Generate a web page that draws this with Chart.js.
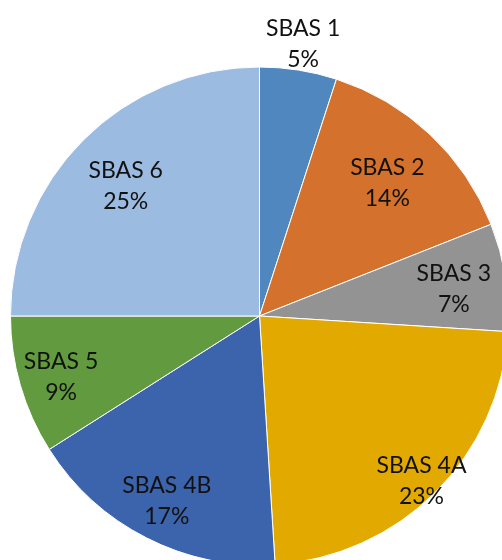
<!DOCTYPE html>
<html>
<head>
<meta charset="utf-8">
<script src="https://cdn.jsdelivr.net/npm/chart.js@4.4.1/dist/chart.umd.min.js"></script>
<style>
    html, body { margin: 0; padding: 0; background: #fff; overflow: hidden; width: 502px; height: 560px; }
    #wrap { position: absolute; left: 0; top: 0; width: 520px; height: 632px; }
</style>
</head>
<body>
<div id="wrap"><canvas id="my-chart"></canvas></div>
<script>
// * Share of each SBAS group (pie)

const categories = ['SBAS 1', 'SBAS 2', 'SBAS 3', 'SBAS 4A', 'SBAS 4B', 'SBAS 5', 'SBAS 6']
const shares = [5, 14, 7, 23, 17, 9, 25]

const sliceColors = ['#4F87BE', '#D4712C', '#939393', '#E2AA00', '#3C64AC', '#619A3F', '#9BBBE0']
// how far from the centre each label sits (fraction of radius)
const labelDistance = [1.12, 0.75, 0.79, 0.92, 0.82, 0.83, 0.76]

const ctx = document.getElementById('my-chart')

// draws "name / pct%" for every slice
const sliceLabels = {
    id: 'sliceLabels',
    afterDatasetsDraw(chart) {
        const c = chart.ctx
        const meta = chart.getDatasetMeta(0)
        c.save()
        c.font = '23px Lato, "Liberation Sans", sans-serif'
        c.fillStyle = '#111'
        c.textAlign = 'center'
        c.textBaseline = 'middle'
        meta.data.forEach((arc, i) => {
            const { x, y, startAngle, endAngle, outerRadius } = arc.getProps(
                ['x', 'y', 'startAngle', 'endAngle', 'outerRadius'], true)
            const mid = (startAngle + endAngle) / 2
            const r = outerRadius * labelDistance[i]
            const lx = x + Math.cos(mid) * r
            const ly = y + Math.sin(mid) * r
            c.fillText(categories[i], lx, ly - 12)
            c.fillText(shares[i] + '%', lx, ly + 19)
        })
        c.restore()
    }
}

new Chart(ctx, {
    type: 'pie',
    data: {
        labels: categories,
        datasets: [
            {
                data: shares,
                backgroundColor: sliceColors,
                borderColor: '#ffffff',
                borderWidth: 1
            }
        ]
    },
    options: {
        responsive: true,
        maintainAspectRatio: false,
        animation: false,
        layout: { padding: { left: 10, right: 11, top: 0, bottom: 0 } },
        plugins: {
            legend: { display: false },
            tooltip: { enabled: false }
        }
    },
    plugins: [sliceLabels]
})
</script>
</body>
</html>
